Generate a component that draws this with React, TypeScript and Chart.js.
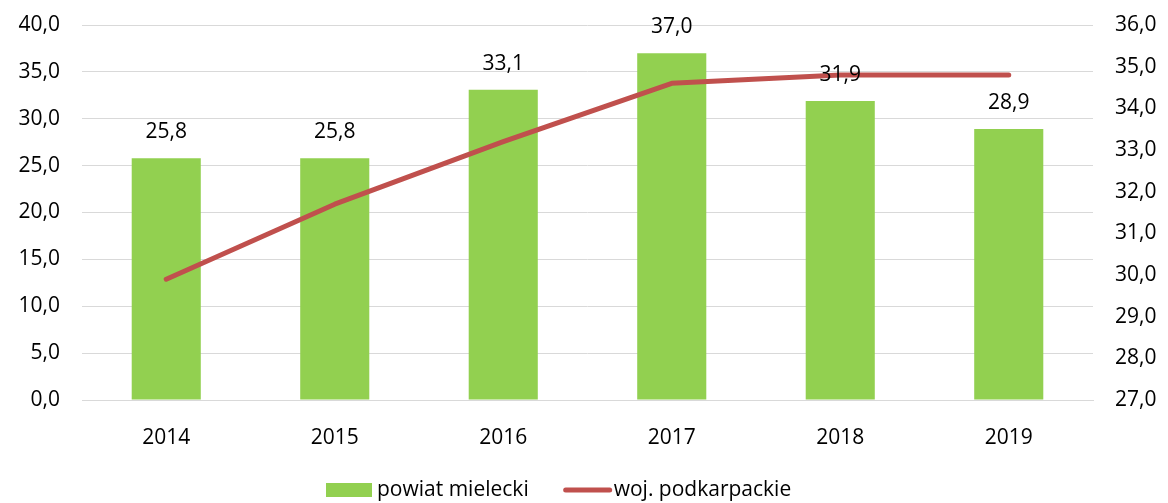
import React, { useEffect, useRef } from "react";
import { Chart, registerables } from "chart.js";

Chart.register(...registerables);

const categories = ["2014", "2015", "2016", "2017", "2018", "2019"];
const powiatValues = [25.8, 25.8, 33.1, 37.0, 31.9, 28.9];
const wojValues = [29.9, 31.7, 33.2, 34.6, 34.8, 34.8];
const seriesNames = ["powiat mielecki", "woj. podkarpackie"];

const FONT = "'Open Sans', 'Noto Sans', sans-serif";
const GREEN = "#92D050";
const RED = "#C0504D";

const fmt = (v: number) => v.toFixed(1).replace(".", ",");

const labelsPlugin = {
  id: "barLabels",
  afterDatasetsDraw(chart: any) {
    const ctx = chart.ctx;
    const meta = chart.getDatasetMeta(1);
    ctx.save();
    ctx.font = `21px ${FONT}`;
    ctx.fillStyle = "#000";
    ctx.textAlign = "center";
    ctx.textBaseline = "middle";
    meta.data.forEach((el: any, i: number) => {
      ctx.fillText(fmt(powiatValues[i]), el.x, el.y - 26);
    });
    ctx.restore();
  },
};

const legendPlugin = {
  id: "customLegend",
  afterDraw(chart: any) {
    const ctx = chart.ctx;
    ctx.save();
    ctx.font = `21px ${FONT}`;
    ctx.textBaseline = "middle";
    ctx.textAlign = "left";
    const y = 490;
    let x = 326;
    ctx.fillStyle = GREEN;
    ctx.fillRect(x, y - 7, 46, 14);
    x += 51;
    ctx.fillStyle = "#000";
    ctx.fillText(seriesNames[0], x, y);
    x += ctx.measureText(seriesNames[0]).width + 35;
    ctx.strokeStyle = RED;
    ctx.lineWidth = 5;
    ctx.lineCap = "round";
    ctx.beginPath();
    ctx.moveTo(x + 2, y);
    ctx.lineTo(x + 46, y);
    ctx.stroke();
    x += 50;
    ctx.fillStyle = "#000";
    ctx.fillText(seriesNames[1], x, y);
    ctx.restore();
  },
};

function fixV(scale: any, w: number) {
  scale.width = w;
  scale.paddingTop = 0;
  scale.paddingBottom = 0;
}

export default function App() {
  const ref = useRef<HTMLCanvasElement | null>(null);
  useEffect(() => {
    document.body.style.margin = "0";
    const canvas = ref.current!;
    const chart = new Chart(canvas, {
      type: "bar",
      data: {
        labels: categories,
        datasets: [
          {
            type: "line",
            label: seriesNames[1],
            data: wojValues,
            borderColor: RED,
            backgroundColor: RED,
            borderWidth: 5,
            pointRadius: 0,
            borderCapStyle: "round",
            borderJoinStyle: "round",
            yAxisID: "y2",
            order: 0,
          } as any,
          {
            type: "bar",
            label: seriesNames[0],
            data: powiatValues,
            backgroundColor: GREEN,
            categoryPercentage: 1,
            barPercentage: 0.41,
            yAxisID: "y",
            order: 1,
          },
        ],
      },
      options: {
        responsive: false,
        animation: false,
        layout: { padding: { top: 25, bottom: 0, left: 0, right: 0 } },
        plugins: {
          legend: { display: false },
          tooltip: { enabled: false },
        },
        scales: {
          x: {
            grid: { display: false, drawTicks: false },
            border: { display: true, color: "#d9d9d9", width: 1 },
            ticks: { font: { family: FONT, size: 21 }, color: "#000", padding: 25 },
            afterFit(scale: any) {
              scale.height = 103;
              scale.paddingLeft = 0;
              scale.paddingRight = 0;
            },
          },
          y: {
            position: "left",
            min: 0,
            max: 40,
            ticks: {
              stepSize: 5,
              font: { family: FONT, size: 21 },
              color: "#000",
              padding: 22,
              callback: (v: any) => fmt(Number(v)),
            },
            grid: { color: "#d9d9d9", lineWidth: 1, drawTicks: false },
            border: { display: false },
            afterFit(scale: any) {
              fixV(scale, 82);
            },
          },
          y2: {
            position: "right",
            min: 27,
            max: 36,
            ticks: {
              stepSize: 1,
              font: { family: FONT, size: 21 },
              color: "#000",
              padding: 22,
              callback: (v: any) => fmt(Number(v)),
            },
            grid: { display: false, drawTicks: false },
            border: { display: false },
            afterFit(scale: any) {
              fixV(scale, 75);
            },
          },
        },
      } as any,
      plugins: [labelsPlugin, legendPlugin],
    });
    return () => chart.destroy();
  }, []);
  return <canvas ref={ref} width={1168} height={503} style={{ display: "block" }} />;
}
